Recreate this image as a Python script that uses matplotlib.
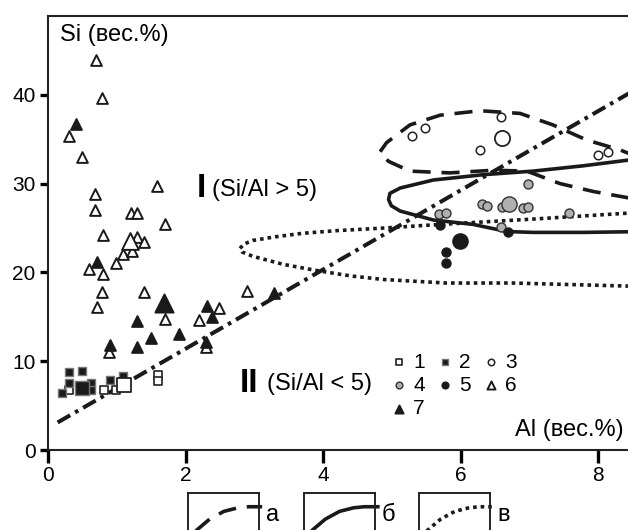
import matplotlib.pyplot as plt

plt.rcParams['font.family'] = ['Liberation Sans', 'DejaVu Sans']

# group 1: open squares, 2: filled squares
sq_open_al = [0.30, 0.81, 0.99, 1.60, 1.60]
sq_open_si = [6.8, 6.7, 6.8, 8.4, 7.8]
sq_fill_al = [0.31, 0.49, 0.30, 0.62, 0.62, 0.20, 0.90, 1.09]
sq_fill_si = [8.8, 8.9, 7.5, 7.5, 6.8, 6.4, 7.9, 8.3]

# group 3: open circles, 4: grey circles, 5: black circles
ci_open_al = [5.29, 5.48, 6.59, 6.28, 7.99, 8.14]
ci_open_si = [35.4, 36.2, 37.5, 33.8, 33.2, 33.6]
ci_grey_al = [6.97, 6.31, 6.38, 6.60, 6.90, 6.98, 5.69, 5.78, 7.57, 6.59]
ci_grey_si = [30.0, 27.7, 27.5, 27.4, 27.3, 27.4, 26.6, 26.7, 26.7, 25.1]
ci_black_al = [5.70, 6.69, 5.79, 5.79]
ci_black_si = [25.3, 24.6, 22.3, 21.0]

# group 6: open triangles, 7: filled triangles
tr_open_al = [0.70, 0.79, 0.30, 0.50, 1.59, 0.69, 0.69, 1.20, 1.30, 1.70,
              0.80, 1.30, 1.40, 1.09, 1.22, 0.99, 0.59, 0.80, 0.79, 1.39,
              0.71, 2.89, 1.70, 2.19, 2.49, 0.89, 2.30]
tr_open_si = [43.9, 39.6, 35.4, 33.0, 29.7, 28.8, 27.0, 26.7, 26.7, 25.4,
              24.2, 24.0, 23.4, 22.1, 22.4, 21.1, 20.4, 19.8, 17.8, 17.8,
              16.1, 17.9, 14.7, 14.6, 16.0, 11.0, 11.6]
tr_fill_al = [0.41, 0.71, 3.28, 2.31, 2.39, 1.29, 1.50, 1.90, 0.90, 1.30, 2.30]
tr_fill_si = [36.7, 21.2, 17.7, 16.2, 15.0, 14.5, 12.6, 13.1, 11.8, 11.6, 12.2]

# mean values (big markers): al, si
mean_sq_open = [1.10, 7.3]
mean_sq_fill = [0.49, 7.0]
mean_ci_open = [6.60, 35.1]
mean_ci_grey = [6.70, 27.7]
mean_ci_black = [5.99, 23.5]
mean_tr_open = [1.19, 23.5]
mean_tr_fill = [1.69, 16.6]

# Si/Al = 5 boundary
bound_al = [0.14, 8.7]
bound_si = [3.1, 41.3]

# field outlines: а (dashed), б (solid), в (dotted)
field_a_al = [8.7, 8.36, 7.93, 7.44, 6.96, 6.47, 5.84, 5.26, 4.95, 4.82,
              4.92, 5.26, 5.70, 6.28, 6.86, 7.34, 7.83, 8.31, 8.7]
field_a_si = [28.0, 28.5, 29.1, 30.0, 31.4, 31.5, 31.2, 31.4, 32.5, 33.5,
              34.6, 36.6, 37.7, 38.2, 37.9, 36.6, 34.9, 33.8, 32.6]
field_b_al = [8.7, 7.78, 7.05, 6.67, 6.18, 5.60, 5.12, 4.99, 4.95, 4.97,
              5.12, 5.60, 6.33, 7.05, 7.78, 8.7]
field_b_si = [24.6, 24.5, 24.5, 24.6, 25.4, 25.9, 26.9, 27.5, 28.2, 28.9,
              29.5, 30.4, 31.0, 31.4, 32.0, 32.9]
field_v_al = [8.7, 6.76, 5.79, 4.87, 4.40, 3.91, 3.42, 2.98, 2.82, 2.79,
              2.85, 2.98, 3.30, 3.70, 4.20, 4.90, 5.70, 7.05, 8.7]
field_v_si = [18.4, 18.8, 18.8, 19.2, 19.6, 20.2, 20.9, 21.8, 22.3, 22.7,
              23.2, 23.6, 24.0, 24.4, 24.7, 25.0, 25.4, 26.0, 26.8]

# swatch curve for the small key boxes
swatch_x = [0.0, 0.12, 0.3, 0.5, 0.7, 0.85, 1.04]
swatch_y = [0.12, 0.29, 0.5, 0.65, 0.72, 0.74, 0.74]

dashdot = dict(color='#1a1a1a', lw=2.9, dashes=(3.6, 1.4, 0.9, 1.4), dash_capstyle='butt')
style_a = dict(color='#1a1a1a', lw=2.6, dashes=(5, 3), dash_capstyle='butt')
style_b = dict(color='#1a1a1a', lw=2.6)
style_v = dict(color='#1a1a1a', lw=2.6, dashes=(1, 1.1), dash_capstyle='butt')

fig = plt.figure(figsize=(6.28, 5.3), dpi=100)
ax = fig.add_axes([48 / 628, 80 / 530, 1 - 48 / 628, 434.3 / 530])

ax.plot(bound_al, bound_si, **dashdot)
ax.plot(field_a_al, field_a_si, **style_a)
ax.plot(field_b_al, field_b_si, **style_b)
ax.plot(field_v_al, field_v_si, **style_v)

tri_edge = 1.4
ax.scatter(sq_open_al, sq_open_si, s=38, marker='s', facecolor='white', edgecolor='#222', lw=1.2, zorder=3, label='1')
ax.scatter(sq_fill_al, sq_fill_si, s=38, marker='s', facecolor='#1a1a1a', edgecolor='#777', lw=1.0, zorder=3, label='2')
ax.scatter(ci_open_al, ci_open_si, s=38, marker='o', facecolor='white', edgecolor='#222', lw=1.1, zorder=3, label='3')
ax.scatter(ci_grey_al, ci_grey_si, s=42, marker='o', facecolor='#b0b0b0', edgecolor='#333', lw=1.0, zorder=3, label='4')
ax.scatter(ci_black_al, ci_black_si, s=42, marker='o', facecolor='#1a1a1a', edgecolor='#1a1a1a', lw=1.0, zorder=3, label='5')
ax.scatter(tr_open_al, tr_open_si, s=60, marker='^', facecolor='white', edgecolor='#1a1a1a', lw=tri_edge, zorder=3, label='6')
ax.scatter(tr_fill_al, tr_fill_si, s=60, marker='^', facecolor='#1a1a1a', edgecolor='#1a1a1a', lw=tri_edge, zorder=3, label='7')

# means
ax.scatter(*mean_sq_open, s=90, marker='s', facecolor='white', edgecolor='#222', lw=1.3, zorder=4)
ax.scatter(*mean_sq_fill, s=90, marker='s', facecolor='#1a1a1a', edgecolor='#777', lw=1.0, zorder=4)
ax.scatter(*mean_ci_open, s=120, marker='o', facecolor='white', edgecolor='#222', lw=1.3, zorder=4)
ax.scatter(*mean_ci_grey, s=120, marker='o', facecolor='#b0b0b0', edgecolor='#333', lw=1.0, zorder=4)
ax.scatter(*mean_ci_black, s=120, marker='o', facecolor='#1a1a1a', edgecolor='#1a1a1a', lw=1.0, zorder=4)
ax.scatter(*mean_tr_open, s=145, marker='^', facecolor='white', edgecolor='#1a1a1a', lw=tri_edge, zorder=4)
ax.scatter(*mean_tr_fill, s=170, marker='^', facecolor='#1a1a1a', edgecolor='#1a1a1a', lw=tri_edge, zorder=4)

ax.set_xlim(0, 8.43)
ax.set_ylim(0, 48.9)
ax.set_xticks([0, 2, 4, 6, 8])
ax.set_yticks([0, 10, 20, 30, 40])
ax.spines['right'].set_visible(False)
for s in ['left', 'bottom', 'top']:
    ax.spines[s].set_linewidth(1.5)
    ax.spines[s].set_color('#222')
ax.tick_params(axis='x', direction='out', length=9.5, width=2.4, labelsize=15, pad=2)
ax.tick_params(axis='y', direction='out', length=6, width=2.4, labelsize=15, pad=3)

ax.text(0.17, 46.7, 'Si (вес.%)', fontsize=17, va='center', ha='left')
ax.text(8.36, 2.25, 'Al (вес.%)', fontsize=17, va='center', ha='right')
ax.text(2.16, 29.4, 'I', fontsize=24, fontweight='bold', va='center', ha='left')
ax.text(2.38, 29.3, '(Si/Al > 5)', fontsize=17, va='center', ha='left')
ax.text(2.79, 7.5, 'II', fontsize=24, fontweight='bold', va='center', ha='left')
ax.text(3.18, 7.4, '(Si/Al < 5)', fontsize=17, va='center', ha='left')

h, l = ax.get_legend_handles_labels()
order = [0, 3, 6, 1, 4, 2, 5]
ax.legend([h[i] for i in order], [l[i] for i in order], ncol=3, frameon=False,
          loc='upper left', bbox_to_anchor=(0.59, 0.224), borderaxespad=0, borderpad=0,
          handlelength=0.8, handletextpad=0.3, columnspacing=0.55, labelspacing=0.2,
          markerscale=0.75, fontsize=15)

# key boxes for the field outlines
for left, style, lab in [(188.3, style_a, 'а'), (304, style_b, 'б'), (419.3, style_v, 'в')]:
    kx = fig.add_axes([left / 628, -15 / 530, 71 / 628, 51.7 / 530])
    kx.set_xlim(0, 1)
    kx.set_ylim(0, 1)
    kx.set_xticks([])
    kx.set_yticks([])
    for s in kx.spines.values():
        s.set_linewidth(1.4)
        s.set_color('#222')
    kx.plot(swatch_x, swatch_y, clip_on=False, **style)
    kx.text(1.1, 0.58, lab, fontsize=17, va='center', ha='left', transform=kx.transAxes)

fig.savefig('out.png', dpi=100)
